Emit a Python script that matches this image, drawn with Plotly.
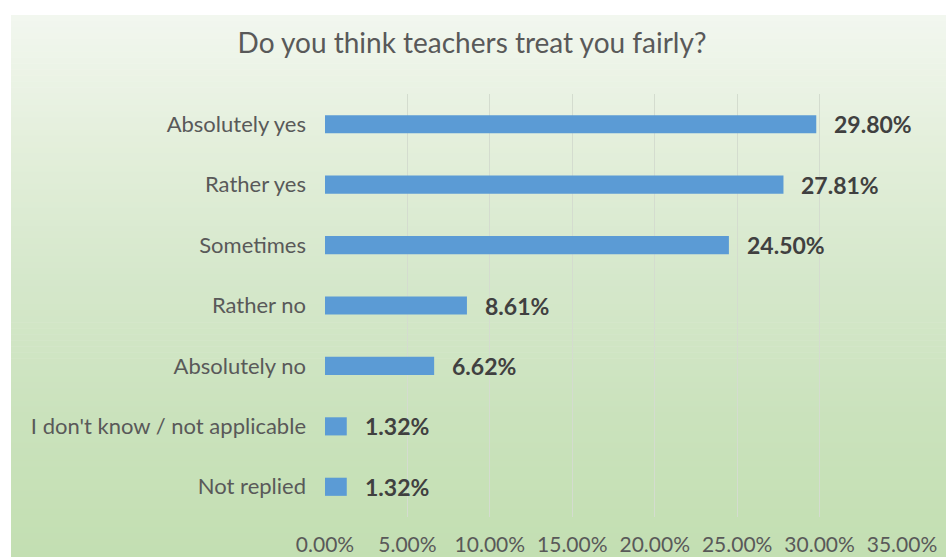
import plotly.graph_objects as go

categories = ["Absolutely yes", "Rather yes", "Sometimes", "Rather no",
              "Absolutely no", "I don't know / not applicable", "Not replied"]
values = [0.2980, 0.2781, 0.2450, 0.0861, 0.0662, 0.0132, 0.0132]
tick_vals = [0, 0.05, 0.10, 0.15, 0.20, 0.25, 0.30, 0.35]
tick_text = ["0.00%", "5.00%", "10.00%", "15.00%", "20.00%", "25.00%", "30.00%", "35.00%"]
title_text = "Do you think teachers treat you fairly?"

W, H = 946, 557
ML, MR, MT, MB = 325, 44, 94, 40
pw, ph = W - ML - MR, H - MT - MB
font_family = "Lato, 'Open Sans', sans-serif"

fig = go.Figure()
fig.add_trace(go.Bar(
    y=categories, x=values, orientation="h",
    marker=dict(color="#5b9bd5", line=dict(width=0)),
    hoverinfo="skip",
))

# gradient background via stacked strips
def px_to_paper_x(px):
    return (px - ML) / pw

def px_to_paper_y(py):
    return (H - MB - py) / ph

stops = [(15, (242, 247, 239)), (160, (226, 238, 217)), (270, (214, 232, 204)),
         (420, (202, 226, 188)), (557, (195, 223, 178))]

def color_at(py):
    for (y0, c0), (y1, c1) in zip(stops[:-1], stops[1:]):
        if y0 <= py <= y1:
            t = (py - y0) / (y1 - y0)
            return tuple(round(a + (b - a) * t) for a, b in zip(c0, c1))
    return stops[-1][1]

shapes = []
n = 90
top, bot = 15, H
for i in range(n):
    y0 = top + (bot - top) * i / n
    y1 = top + (bot - top) * (i + 1) / n
    c = color_at((y0 + y1) / 2)
    shapes.append(dict(
        type="rect", xref="paper", yref="paper", layer="below",
        x0=px_to_paper_x(11), x1=px_to_paper_x(W + 2),
        y0=px_to_paper_y(y1 + 0.6), y1=px_to_paper_y(y0),
        fillcolor="rgb(%d,%d,%d)" % c, line=dict(width=0),
    ))

annotations = [
    dict(x=v, y=c, xref="x", yref="y", text="<b>%.2f%%</b>" % (v * 100),
         showarrow=False, xanchor="left", yanchor="middle", xshift=16,
         font=dict(family=font_family, size=23, color="#404040"))
    for c, v in zip(categories, values)
]

fig.update_layout(
    width=W, height=H,
    margin=dict(l=ML, r=MR, t=MT, b=MB),
    paper_bgcolor="white", plot_bgcolor="rgba(0,0,0,0)",
    title=dict(text=title_text, x=472 / W, xanchor="center", y=1 - 43 / H, yanchor="middle",
               font=dict(family=font_family, size=28, color="#595959")),
    showlegend=False,
    bargap=0.7,
    shapes=shapes,
    annotations=annotations,
    font=dict(family=font_family, color="#595959"),
)
fig.update_xaxes(range=[0, 0.35], tickvals=tick_vals, ticktext=tick_text,
                 showgrid=True, gridcolor="#d4dccf", gridwidth=1, zeroline=False,
                 showline=False, ticks="", ticklabelstandoff=13, automargin=False,
                 tickfont=dict(family=font_family, size=21, color="#595959"))
fig.update_yaxes(autorange="reversed", showgrid=False, zeroline=False, showline=False,
                 ticks="", ticklabelstandoff=18, automargin=False,
                 tickfont=dict(family=font_family, size=22, color="#595959"))

fig.write_html("out.html", config={"displayModeBar": False},
               post_script="document.body.style.margin='0';")
